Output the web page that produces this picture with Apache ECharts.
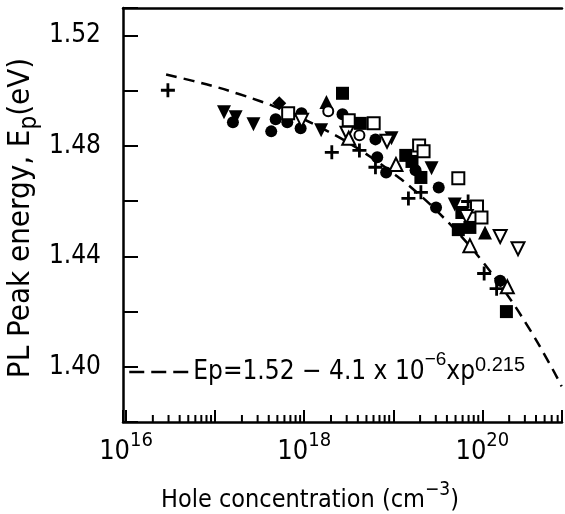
<!DOCTYPE html>
<html><head><meta charset="utf-8">
<script src="https://cdn.jsdelivr.net/npm/echarts@6/dist/echarts.min.js"></script>
<style>html,body{margin:0;padding:0;background:#fff}#c{width:565px;height:514px}</style>
</head><body><div id="c"></div>
<script>
const FONT = "'Liberation Sans Narrow','DejaVu Sans Condensed','Liberation Sans',Arial,sans-serif";
const FONT_W = "'Liberation Sans',Arial,sans-serif";

// x values are log10 of hole concentration (cm^-3); y values are PL peak energy (eV)
const crossX  = [16.47, 18.31, 18.62, 18.80, 19.17, 19.31, 19.84, 20.02, 20.16];
const crossY  = [1.5002, 1.4777, 1.4784, 1.4723, 1.4610, 1.4632, 1.4599, 1.4338, 1.4283];
const dotX    = [17.20, 17.63, 17.68, 17.81, 17.97, 17.96, 18.43, 18.80, 18.82, 18.92, 19.25, 19.48, 20.20, 19.51];
const dotY    = [1.4886, 1.4853, 1.4897, 1.4886, 1.4919, 1.4864, 1.4915, 1.4824, 1.4759, 1.4704, 1.4712, 1.4577, 1.4312, 1.4650];
const downX   = [17.10, 17.23, 17.43, 18.19, 18.98, 19.43, 19.69];
const downY   = [1.4922, 1.4904, 1.4879, 1.4857, 1.4828, 1.4719, 1.4588];
const upX     = [18.25, 20.03];
const upY     = [1.4959, 1.4487];
const sqX     = [18.43, 18.63, 19.14, 19.21, 19.31, 19.77, 19.73, 19.86, 20.27];
const sqY     = [1.4991, 1.4882, 1.4766, 1.4744, 1.4686, 1.4559, 1.4497, 1.4505, 1.4200];
const openSqX = [17.82, 18.50, 18.78, 19.29, 19.34, 19.73, 19.94, 19.99];
const openSqY = [1.4919, 1.4893, 1.4882, 1.4802, 1.4781, 1.4683, 1.4581, 1.4541];
const openDownX = [17.97, 18.48, 18.93, 19.82, 20.20, 20.40];
const openDownY = [1.4893, 1.4846, 1.4817, 1.4545, 1.4472, 1.4428];
const openUpX = [18.50, 19.03, 19.86, 20.28];
const openUpY = [1.4828, 1.4733, 1.4439, 1.4290];
const diamondX = [17.72];
const diamondY = [1.4955];
const ringX   = [18.27, 18.62];
const ringY   = [1.4926, 1.4839];

// dashed fit curve
const curveX = [16.45, 16.75, 17.0, 17.25, 17.5, 17.75, 18.0, 18.25, 18.5, 18.75, 19.0, 19.25, 19.5, 19.75, 20.0, 20.25, 20.5, 20.75, 20.89];
const curveY = [1.5059, 1.5036, 1.5015, 1.4990, 1.4963, 1.4932, 1.4896, 1.4856, 1.4811, 1.4759, 1.4701, 1.4636, 1.4561, 1.4477, 1.4382, 1.4274, 1.4152, 1.4014, 1.3929];

const xLabelDecades = [16, 18, 20];
const yTickLabels = ['1.40', '1.44', '1.48', '1.52'];
const xMin = 15.966, xMax = 20.894, yMin = 1.38, yMax = 1.53;

const zip = (a, b) => a.map((v, i) => [v, b[i]]);
const minorTicks = [];
for (let d = 15; d <= 20; d++) for (let k = 2; k <= 9; k++) {
  const v = d + Math.log10(k);
  if (v > xMin && v < xMax) minorTicks.push([v, yMin]);
}
const PLUS = 'path://M4,0H6V4H10V6H6V10H4V6H0V4H4Z';
const openStyle = {color: '#fff', borderColor: '#000', borderWidth: 2, opacity: 1};
const filled = {color: '#000', opacity: 1};
function sc(name, xs, ys, symbol, size, style, rot) {
  return {type: 'scatter', name, data: zip(xs, ys), symbol, symbolSize: size,
    symbolRotate: rot || 0, itemStyle: style, z: 3, silent: true};
}
// rich token helper: every token of a line gets the same box height H,
// text placed at offset `top` inside it, so sub/superscripts don't depend on alignment rules
function tok(family, size, H, top, extra) {
  return Object.assign({fontFamily: family, fontSize: size, lineHeight: size,
    padding: [top, 0, H - size - top, 0], color: '#000', fill: '#000'}, extra || {});
}

const chart = echarts.init(document.getElementById('c'), null, {renderer: 'canvas'});
chart.setOption({
  animation: false,
  backgroundColor: '#fff',
  grid: {left: 123, right: 1, top: 8, bottom: 92, containLabel: false},
  xAxis: [{
    type: 'value', min: xMin, max: xMax, splitNumber: 5,
    axisLine: {lineStyle: {color: '#000', width: 2.5}},
    axisTick: {inside: true, length: 12, lineStyle: {color: '#000', width: 2}},
    splitLine: {show: false},
    axisLabel: {
      margin: 12, color: '#000',
      formatter: v => { const d = Math.round(v); return (Math.abs(v - d) < 1e-6 && xLabelDecades.includes(d)) ? '{b|10}{s|' + d + '}' : ''; },
      rich: {
        b: tok(FONT, 27, 36, 9),
        s: tok(FONT, 20, 36, 1)
      }
    }
  }, {
    type: 'value', position: 'top', min: xMin, max: xMax,
    axisLine: {show: true, onZero: false, lineStyle: {color: '#000', width: 2.5}},
    axisTick: {show: false}, axisLabel: {show: false}, splitLine: {show: false}
  }],
  yAxis: {
    type: 'value', min: yMin, max: yMax, interval: 0.02,
    axisLine: {show: true, lineStyle: {color: '#000', width: 2.5}},
    axisTick: {inside: true, length: 15, lineStyle: {color: '#000', width: 2}},
    splitLine: {show: false},
    axisLabel: {
      margin: 22, color: '#000', fontFamily: FONT, fontSize: 26,
      formatter: v => yTickLabels.includes(v.toFixed(2)) && Math.abs(v - yMax) > 1e-6 ? v.toFixed(2) : ''
    }
  },
  legend: {
    left: 123, top: 342, data: ['fit'], itemWidth: 59, itemHeight: 14, itemGap: 0,
    selectedMode: false,
    itemStyle: {opacity: 0},
    lineStyle: {color: '#000', width: 2.5, type: [15, 7]},
    formatter: () => '{m|Ep=1.52 − 4.1 x 10}{t|−6}{m|xp}{s|0.215}',
    textStyle: {
      color: '#000',
      rich: {
        m: tok(FONT, 26, 50, 12),
        t: tok(FONT_W, 19, 50, 3),
        s: tok(FONT_W, 20, 50, 8)
      }
    }
  },
  graphic: [
    {type: 'text', x: 27, y: 218, rotation: Math.PI / 2,
     style: {text: '{m|PL Peak energy, E}{p|p}{m|(eV)}', align: 'center', verticalAlign: 'middle', fill: '#000',
       rich: {
         m: tok(FONT, 31, 43, 0),
         p: tok(FONT, 24, 43, 12)
       }}},
    {type: 'text', x: 310, y: 496,
     style: {text: '{m|Hole concentration (cm}{s|−3}{m|)}', align: 'center', verticalAlign: 'middle', fill: '#000',
       rich: {
         m: tok(FONT, 25, 33, 8),
         s: tok(FONT, 19, 33, 1)
       }}}
  ],
  series: [
    {type: 'line', name: 'fit', data: zip(curveX, curveY), symbol: 'none', smooth: true,
     lineStyle: {color: '#000', width: 2.5, type: [11, 7]}, itemStyle: {color: '#000'}, z: 2, silent: true},
    {type: 'custom', name: 'minorTicks', data: minorTicks, encode: {x: 0, y: 1}, silent: true, z: 4,
     renderItem: (params, api) => {
       const p = api.coord([api.value(0), api.value(1)]);
       return {type: 'line', shape: {x1: p[0], y1: p[1], x2: p[0], y2: p[1] - 7}, style: {stroke: '#000', lineWidth: 2}};
     }},
    sc('cross', crossX, crossY, PLUS, 14, filled),
    sc('dot', dotX, dotY, 'circle', 12, filled),
    sc('down', downX, downY, 'triangle', 14, filled, 180),
    sc('up', upX, upY, 'triangle', 14, filled),
    sc('square', sqX, sqY, 'rect', 13, filled),
    sc('openSquare', openSqX, openSqY, 'rect', 12, openStyle),
    sc('openDown', openDownX, openDownY, 'triangle', 13, openStyle, 180),
    sc('openUp', openUpX, openUpY, 'triangle', 13, openStyle),
    sc('diamond', diamondX, diamondY, 'diamond', 14, filled),
    sc('ring', ringX, ringY, 'circle', 10, openStyle)
  ]
});
</script>
</body></html>
